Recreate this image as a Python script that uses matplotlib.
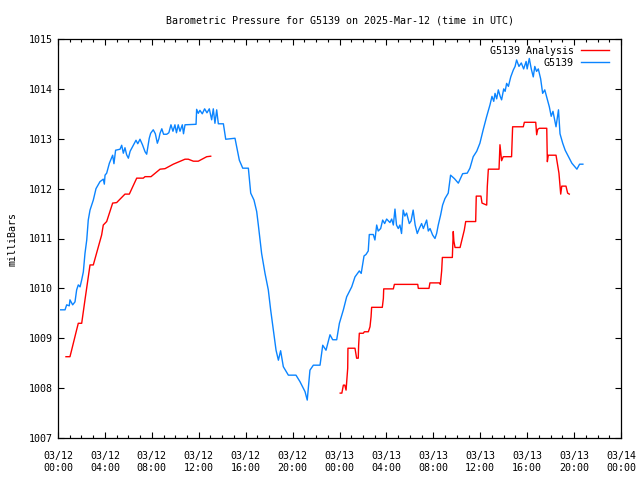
import matplotlib
matplotlib.use("Agg")
import matplotlib.pyplot as plt
from matplotlib.ticker import MultipleLocator

# hours since 2025-03-12 00:00 UTC, pressure in mb
blue_h = [0.23, 0.6, 0.74, 0.96, 1.02, 1.25, 1.45, 1.59, 1.73, 1.88,
          2.02, 2.16, 2.3, 2.45, 2.58, 2.73, 3.01, 3.24, 3.58, 3.86,
          3.95, 4.01, 4.15, 4.38, 4.66, 4.77, 4.91, 5.29, 5.43, 5.57,
          5.71, 5.85, 6.0, 6.15, 6.42, 6.65, 6.8, 6.99, 7.2, 7.42,
          7.56, 7.78, 7.9, 8.12, 8.3, 8.47, 8.6, 8.7, 8.85, 9.0,
          9.27, 9.45, 9.63, 9.8, 9.97, 10.1, 10.25, 10.4, 10.6, 10.7,
          10.83, 11.77, 11.82, 11.96, 12.1, 12.3, 12.5, 12.7, 12.9, 13.1,
          13.24, 13.38, 13.53, 13.67, 14.1, 14.3, 15.09, 15.46, 15.75, 16.23,
          16.43, 16.71, 16.94, 17.08, 17.36, 17.65, 17.93, 18.13, 18.36, 18.59,
          18.79, 18.98, 19.21, 19.64, 20.29, 20.63, 21.06, 21.25, 21.48, 21.77,
          22.34, 22.57, 22.85, 23.19, 23.42, 23.76, 23.99, 24.33, 24.61, 25.04,
          25.32, 25.69, 25.85, 26.09, 26.26, 26.45, 26.54, 26.88, 27.02, 27.17,
          27.3, 27.51, 27.68, 27.85, 28.02, 28.3, 28.45, 28.59, 28.73, 28.86,
          29.01, 29.15, 29.29, 29.43, 29.57, 29.72, 29.95, 30.1, 30.28, 30.45,
          30.63, 30.8, 31.0, 31.15, 31.43, 31.57, 31.72, 31.94, 32.14, 32.28,
          32.42, 32.62, 32.79, 32.99, 33.27, 33.47, 33.8, 34.13, 34.5, 34.89,
          35.12, 35.4, 35.7, 35.97, 36.25, 36.54, 36.83, 37.0, 37.15, 37.26,
          37.4, 37.54, 37.7, 37.82, 38.0, 38.12, 38.25, 38.4, 38.6, 38.82,
          38.97, 39.1, 39.3, 39.5, 39.7, 39.91, 40.0, 40.18, 40.35, 40.52,
          40.65, 40.8, 40.95, 41.15, 41.32, 41.5, 41.65, 41.89, 42.05, 42.2,
          42.46, 42.67, 42.8, 43.03, 43.24, 43.53, 43.81, 44.24, 44.47, 44.75]
blue_p = [1009.57, 1009.57, 1009.67, 1009.65, 1009.77, 1009.67, 1009.73, 1009.97, 1010.07, 1010.03,
          1010.17, 1010.33, 1010.70, 1010.97, 1011.37, 1011.57, 1011.77, 1012.0, 1012.14, 1012.19,
          1012.09, 1012.27, 1012.31, 1012.51, 1012.67, 1012.5, 1012.77, 1012.79, 1012.87, 1012.71,
          1012.82, 1012.68, 1012.61, 1012.75, 1012.87, 1012.97, 1012.9, 1012.99, 1012.88, 1012.74,
          1012.69, 1013.01, 1013.11, 1013.18, 1013.1, 1012.91, 1013.0, 1013.11, 1013.2, 1013.09,
          1013.09, 1013.12, 1013.28, 1013.15, 1013.28, 1013.12, 1013.28, 1013.15, 1013.28, 1013.1,
          1013.28, 1013.29, 1013.59, 1013.51, 1013.57, 1013.5, 1013.6, 1013.52, 1013.6, 1013.38,
          1013.6, 1013.31, 1013.58, 1013.3, 1013.3, 1012.99, 1013.01, 1012.57, 1012.41, 1012.41,
          1011.91, 1011.77, 1011.54, 1011.27, 1010.70, 1010.30, 1009.97, 1009.57, 1009.17, 1008.76,
          1008.56, 1008.75, 1008.43, 1008.26, 1008.26, 1008.13, 1007.93, 1007.76, 1008.36, 1008.46,
          1008.46, 1008.86, 1008.76, 1009.07, 1008.97, 1008.97, 1009.30, 1009.57, 1009.83, 1010.03,
          1010.23, 1010.35, 1010.3, 1010.65, 1010.68, 1010.75, 1011.08, 1011.08, 1010.97, 1011.27,
          1011.15, 1011.2, 1011.37, 1011.3, 1011.39, 1011.32, 1011.39, 1011.27, 1011.59, 1011.27,
          1011.2, 1011.27, 1011.1, 1011.57, 1011.45, 1011.51, 1011.3, 1011.35, 1011.57, 1011.27,
          1011.1, 1011.2, 1011.3, 1011.2, 1011.37, 1011.15, 1011.2, 1011.07, 1011.0, 1011.1,
          1011.27, 1011.47, 1011.67, 1011.80, 1011.91, 1012.27, 1012.2, 1012.11, 1012.3, 1012.31,
          1012.41, 1012.64, 1012.75, 1012.91, 1013.18, 1013.44, 1013.68, 1013.85, 1013.75, 1013.91,
          1013.8, 1013.98, 1013.85, 1013.78, 1014.0, 1013.95, 1014.11, 1014.05, 1014.24, 1014.38,
          1014.45, 1014.58, 1014.45, 1014.52, 1014.4, 1014.55, 1014.4, 1014.61, 1014.4, 1014.24,
          1014.45, 1014.35, 1014.4, 1014.2, 1013.91, 1013.98, 1013.85, 1013.64, 1013.45, 1013.55,
          1013.24, 1013.58, 1013.1, 1012.91, 1012.77, 1012.64, 1012.51, 1012.39, 1012.49, 1012.49]

# analysis comes in two pieces
red1_h = [0.68, 1.02, 1.16, 1.59, 1.73, 2.02, 2.3, 2.73, 3.01, 3.72,
          3.86, 4.15, 4.66, 5.0, 5.71, 6.08, 6.71, 7.27, 7.42, 7.93,
          8.7, 9.12, 9.83, 10.83, 11.11, 11.54, 11.96, 12.68, 13.02]
red1_p = [1008.63, 1008.63, 1008.76, 1009.17, 1009.30, 1009.30, 1009.77, 1010.47, 1010.47, 1011.07,
          1011.27, 1011.34, 1011.71, 1011.72, 1011.89, 1011.89, 1012.21, 1012.21, 1012.24, 1012.24,
          1012.39, 1012.40, 1012.49, 1012.59, 1012.59, 1012.55, 1012.55, 1012.64, 1012.65]

red2_h = [24.06, 24.2, 24.33, 24.45, 24.56, 24.7, 24.72, 25.32, 25.46, 25.6,
          25.63, 25.69, 26.03, 26.12, 26.46, 26.6, 26.69, 26.74, 27.65, 27.74,
          27.77, 28.59, 28.68, 30.67, 30.72, 31.63, 31.71, 32.51, 32.6, 32.71,
          32.77, 33.62, 33.7, 33.75, 33.85, 34.28, 34.64, 34.76, 35.61, 35.66,
          36.06, 36.15, 36.55, 36.6, 36.69, 37.6, 37.68, 37.82, 37.96, 38.67,
          38.76, 39.67, 39.76, 40.73, 40.81, 40.9, 41.04, 41.67, 41.72, 41.8,
          42.46, 42.71, 42.86, 42.95, 43.31, 43.45, 43.59]
red2_p = [1007.90, 1007.90, 1008.06, 1008.06, 1007.96, 1008.40, 1008.80, 1008.80, 1008.60, 1008.60,
          1008.85, 1009.10, 1009.10, 1009.13, 1009.13, 1009.23, 1009.43, 1009.62, 1009.62, 1009.80,
          1009.99, 1009.99, 1010.08, 1010.08, 1010.0, 1010.0, 1010.11, 1010.11, 1010.08, 1010.35,
          1010.62, 1010.62, 1011.14, 1010.95, 1010.82, 1010.82, 1011.17, 1011.34, 1011.34, 1011.85,
          1011.85, 1011.71, 1011.67, 1012.04, 1012.39, 1012.39, 1012.88, 1012.56, 1012.64, 1012.64,
          1013.24, 1013.24, 1013.33, 1013.33, 1013.08, 1013.19, 1013.21, 1013.21, 1012.54, 1012.67,
          1012.67, 1012.31, 1011.89, 1012.05, 1012.05, 1011.91, 1011.89]

x_ticks = [0, 4, 8, 12, 16, 20, 24, 28, 32, 36, 40, 44, 48]
x_labels = ["03/12\n00:00", "03/12\n04:00", "03/12\n08:00", "03/12\n12:00",
            "03/12\n16:00", "03/12\n20:00", "03/13\n00:00", "03/13\n04:00",
            "03/13\n08:00", "03/13\n12:00", "03/13\n16:00", "03/13\n20:00",
            "03/14\n00:00"]

plt.rcParams['font.family'] = 'DejaVu Sans Mono'
plt.rcParams['font.size'] = 7.2

fig = plt.figure(figsize=(6.4, 4.8), dpi=100)
ax = fig.add_axes([58 / 640, 42 / 480, 563 / 640, 399 / 480])

red = '#ff0000'
blue = '#0a84ff'
ax.plot(red1_h, red1_p, color=red, lw=1.0, label='G5139 Analysis')
ax.plot(red2_h, red2_p, color=red, lw=1.0)
ax.plot(blue_h, blue_p, color=blue, lw=1.0, label='G5139')

ax.set_xlim(0, 48)
ax.set_ylim(1007, 1015)
ax.set_xticks(x_ticks)
ax.set_xticklabels(x_labels, linespacing=1.35)
ax.xaxis.set_minor_locator(MultipleLocator(1))
ax.set_yticks(range(1007, 1016))
ax.tick_params(which='both', direction='in', top=True, right=True, width=0.8)
ax.tick_params(which='major', length=4.5)
ax.tick_params(which='minor', length=2.5)
ax.tick_params(axis='x', which='major', pad=9)
ax.tick_params(axis='y', which='major', pad=4)
for s in ax.spines.values():
    s.set_linewidth(0.9)

ax.set_title('Barometric Pressure for G5139 on 2025-Mar-12 (time in UTC)',
             fontsize=7.2, pad=11)
ax.set_ylabel('milliBars', labelpad=8)

ax.legend(loc='upper right', bbox_to_anchor=(1 - 5 / 563, 1), frameon=False,
          markerfirst=False, handlelength=2.8, handletextpad=0.7,
          labelspacing=0.2, borderaxespad=0.4, borderpad=0.3)

fig.savefig('out.png', dpi=100)
